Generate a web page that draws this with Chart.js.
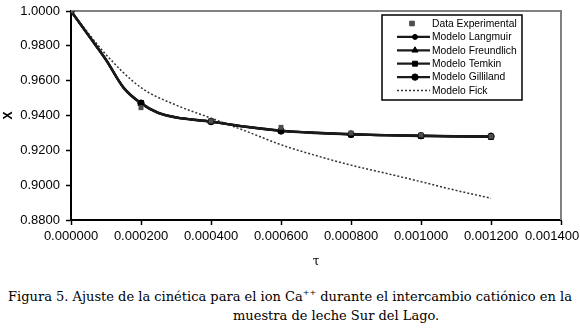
<!DOCTYPE html>
<html>
<head>
<meta charset="utf-8">
<script src="https://cdn.jsdelivr.net/npm/chart.js@4"></script>
<style>
  body { margin: 0; background: #fff; }
  #wrap { position: relative; width: 580px; height: 328px; }
  #chart { position: absolute; left: 0; top: 0; }
  .cap { position: absolute; font-family: 'DejaVu Serif', serif; font-size: 13px; color: #000; white-space: nowrap; }
  #cap1 { left: 0; width: 580px; text-align: center; top: 289px; }
  #cap2 { left: 233px; top: 308px; }
  sup { font-size: 8px; vertical-align: 6px; line-height: 0; }
</style>
</head>
<body>
<div id="wrap">
  <canvas id="chart" width="580" height="270"></canvas>
  <div class="cap" id="cap1">Figura 5. Ajuste de la cinética para el ion Ca<sup>++</sup> durante el intercambio catiónico en la</div>
  <div class="cap" id="cap2">muestra de leche Sur del Lago.</div>
</div>
<script>
// values
const tauExp = [0, 0.0002, 0.0004, 0.0006, 0.0008, 0.0010, 0.0012];
const xExperimental = [1.0000, 0.9445, 0.9368, 0.9332, 0.9300, 0.9288, 0.9280];

const tauModel = [0, 0.00005, 0.0001, 0.00015, 0.0002, 0.00025, 0.0003, 0.0004, 0.0005, 0.0006, 0.0007, 0.0008, 0.0009, 0.0010, 0.0011, 0.0012];
const xLangmuir   = [1.0000, 0.9860, 0.9720, 0.9560, 0.9470, 0.9415, 0.9390, 0.9365, 0.9335, 0.9312, 0.9300, 0.9292, 0.9287, 0.9283, 0.9280, 0.9279];
const xFreundlich = [1.0000, 0.9858, 0.9718, 0.9558, 0.9468, 0.9413, 0.9388, 0.9364, 0.9336, 0.9314, 0.9302, 0.9294, 0.9288, 0.9284, 0.9281, 0.9280];
const xTemkin     = [1.0000, 0.9860, 0.9720, 0.9560, 0.9472, 0.9416, 0.9390, 0.9366, 0.9336, 0.9313, 0.9300, 0.9291, 0.9286, 0.9282, 0.9279, 0.9277];
const xGilliland  = [1.0000, 0.9862, 0.9722, 0.9562, 0.9471, 0.9414, 0.9389, 0.9365, 0.9334, 0.9311, 0.9299, 0.9291, 0.9287, 0.9284, 0.9282, 0.9281];

const tauFick = [0, 0.0001, 0.0002, 0.0003, 0.0004, 0.0005, 0.0006, 0.0007, 0.0008, 0.0009, 0.0010, 0.0011, 0.0012];
const xFick   = [1.0000, 0.9750, 0.9560, 0.9460, 0.9385, 0.9310, 0.9232, 0.9170, 0.9115, 0.9068, 0.9020, 0.8970, 0.8925];

const SANS = "'Liberation Sans', Arial, sans-serif";

function pts(xs, ys) {
    return xs.map((x, i) => ({ x: x, y: ys[i] }));
}

// markers only at the 0.0002 steps, like the original
function markerRadius(r) {
    return ctx => {
        const t = ctx.raw ? ctx.raw.x : 0;
        return Math.abs(Math.round(t / 0.0002) * 0.0002 - t) < 1e-9 ? r : 0;
    };
}

function modelSet(label, data, style, radius) {
    return {
        label: label,
        data: pts(tauModel, data),
        borderColor: '#1a1a1a',
        backgroundColor: '#000',
        borderWidth: 2.2,
        pointStyle: style,
        pointRadius: markerRadius(radius),
        legendRadius: radius,
        pointBorderWidth: 1,
        pointBorderColor: '#000',
        cubicInterpolationMode: 'monotone',
        showLine: true
    };
}

// grey frame on top and right of the plot area
const framePlugin = {
    id: 'frame',
    beforeDraw(chart) {
        // Excel pushes the last x label inward so it stays on the page
        const items = chart.scales.x.getLabelItems(chart.chartArea);
        if (items.length) items[items.length - 1].options.translation[0] = 552;
    },
    beforeDatasetsDraw(chart) {
        const { ctx, chartArea: a } = chart;
        ctx.save();
        ctx.strokeStyle = '#808080';
        ctx.lineWidth = 2;
        ctx.beginPath();
        ctx.moveTo(a.left, a.top);
        ctx.lineTo(a.right, a.top);
        ctx.lineTo(a.right, a.bottom);
        ctx.stroke();
        ctx.restore();
    }
};

// boxed legend in the Excel style
const boxLegend = {
    id: 'boxLegend',
    afterDraw(chart) {
        const ctx = chart.ctx;
        const left = 382, top = 15, right = 522, bottom = 100;
        ctx.save();
        ctx.fillStyle = '#fff';
        ctx.fillRect(left, top, right - left, bottom - top);
        ctx.strokeStyle = '#000';
        ctx.lineWidth = 1.5;
        ctx.strokeRect(left, top, right - left, bottom - top);
        ctx.font = '10.3px ' + SANS;
        ctx.textBaseline = 'middle';
        ctx.textAlign = 'left';
        chart.data.datasets.forEach((ds, i) => {
            const y = 23.5 + i * 13.4;
            ctx.lineWidth = ds.borderWidth;
            ctx.strokeStyle = ds.borderColor;
            if (ds.showLine) {
                ctx.setLineDash(ds.borderDash || []);
                ctx.beginPath();
                ctx.moveTo(397, y);
                ctx.lineTo(430, y);
                ctx.stroke();
                ctx.setLineDash([]);
            }
            if (ds.legendRadius) {
                ctx.fillStyle = ds.backgroundColor;
                ctx.strokeStyle = ds.pointBorderColor;
                ctx.lineWidth = 1;
                Chart.helpers.drawPoint(ctx, { pointStyle: ds.pointStyle, radius: ds.legendRadius, borderWidth: 1, rotation: 0 }, ds.showLine ? 415 : 412, y);
            }
            ctx.fillStyle = '#000';
            ctx.fillText(ds.label, 432, y + 0.5);
        });
        ctx.restore();
    }
};

const datasets = [
    {
        label: 'Data Experimental',
        data: pts(tauExp, xExperimental),
        showLine: false,
        pointStyle: 'rect',
        pointRadius: 3.5,
        legendRadius: 3.3,
        backgroundColor: '#4d4d4d',
        pointBorderColor: '#4d4d4d',
        borderColor: '#4d4d4d',
        borderWidth: 0
    },
    modelSet('Modelo Langmuir', xLangmuir, 'circle', 2.5),
    modelSet('Modelo Freundlich', xFreundlich, 'triangle', 3.5),
    modelSet('Modelo Temkin', xTemkin, 'rect', 3.5),
    modelSet('Modelo Gilliland', xGilliland, 'circle', 3.2),
    {
        label: 'Modelo Fick',
        data: pts(tauFick, xFick),
        showLine: true,
        borderColor: '#333',
        borderWidth: 1.5,
        borderDash: [2, 2],
        pointRadius: 0,
        cubicInterpolationMode: 'monotone'
    }
];

new Chart(document.getElementById('chart').getContext('2d'), {
    type: 'scatter',
    data: { datasets: datasets },
    plugins: [framePlugin, boxLegend],
    options: {
        responsive: false,
        devicePixelRatio: 1,
        animation: false,
        layout: { padding: { top: 11, right: 19, left: 0, bottom: 0 } },
        plugins: { legend: { display: false }, tooltip: { enabled: false } },
        scales: {
            x: {
                type: 'linear',
                min: 0,
                max: 0.0014,
                ticks: {
                    stepSize: 0.0002,
                    color: '#000',
                    font: { family: SANS, size: 13 },
                    padding: 4,
                    maxRotation: 0,
                    autoSkip: false,
                    callback: v => v.toFixed(6)
                },
                grid: { drawOnChartArea: false, color: '#000', tickLength: 5, tickWidth: 1.5 },
                border: { color: '#000', width: 2 },
                title: { display: true, text: 'τ', color: '#000', font: { family: "'DejaVu Serif', serif", size: 12 }, padding: { top: 0, bottom: 1 } },
                afterFit: s => { s.height = 50; s.paddingLeft = 0; s.paddingRight = 0; }
            },
            y: {
                min: 0.88,
                max: 1.0,
                ticks: {
                    stepSize: 0.02,
                    color: '#000',
                    font: { family: SANS, size: 13 },
                    padding: 6,
                    callback: v => v.toFixed(4)
                },
                grid: { drawOnChartArea: false, color: '#000', tickLength: 5, tickWidth: 1.5 },
                border: { color: '#000', width: 2 },
                title: { display: true, text: 'X', color: '#000', font: { family: SANS, size: 12, weight: 'bold' }, padding: { top: 1, bottom: 0 } },
                afterFit: s => { s.width = 71; s.paddingTop = 0; s.paddingBottom = 0; }
            }
        }
    }
});
</script>
</body>
</html>
